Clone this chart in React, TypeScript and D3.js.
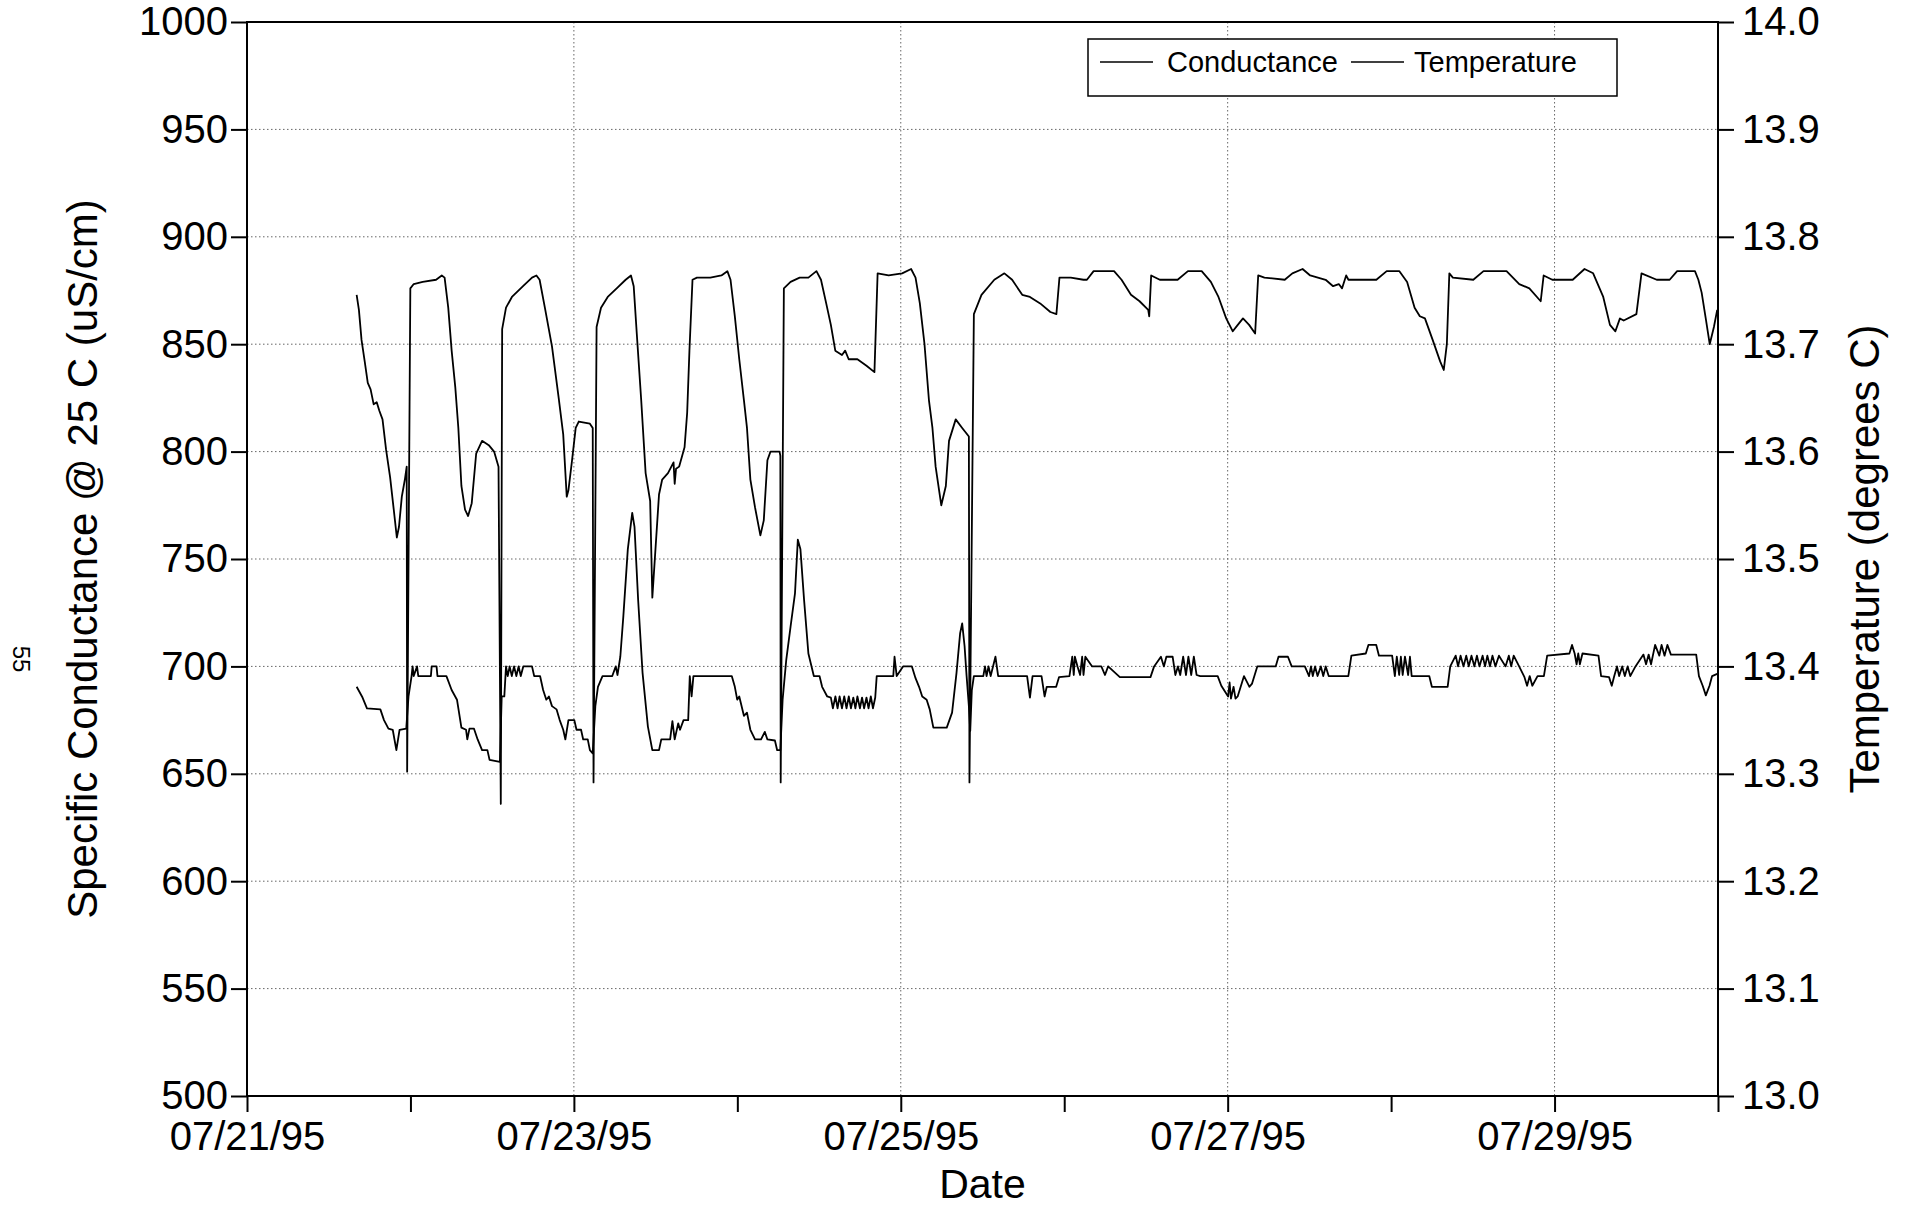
import React, { useEffect, useRef } from 'react';
import * as d3 from 'd3';

// [days since 07/21/95 00:00, specific conductance uS/cm]
const conductance: [number, number][] = [
  [0.671, 873], [0.685, 866], [0.701, 852], [0.72, 842], [0.739, 832], [0.756, 829], [0.775, 822],
  [0.794, 823], [0.81, 819], [0.829, 815], [0.851, 801], [0.876, 788], [0.898, 773], [0.917, 760],
  [0.93, 765], [0.947, 779], [0.966, 787], [0.977, 793], [0.98, 651], [0.999, 876], [1.02, 878],
  [1.075, 879], [1.157, 880], [1.192, 882], [1.209, 881], [1.231, 867], [1.252, 847], [1.274, 830],
  [1.293, 811], [1.312, 784], [1.334, 773], [1.353, 770], [1.375, 776], [1.402, 799], [1.438, 805],
  [1.479, 803], [1.512, 800], [1.539, 793], [1.553, 636], [1.561, 857], [1.585, 867], [1.621, 872],
  [1.689, 877], [1.744, 881], [1.771, 882], [1.79, 880], [1.825, 866], [1.866, 849], [1.907, 825],
  [1.935, 808], [1.956, 779], [1.967, 782], [1.989, 796], [2.011, 811], [2.03, 814], [2.098, 813],
  [2.115, 811], [2.12, 646], [2.139, 858], [2.166, 867], [2.207, 872], [2.262, 876], [2.317, 880],
  [2.349, 882], [2.366, 877], [2.385, 855], [2.412, 824], [2.439, 790], [2.467, 777], [2.48, 732],
  [2.521, 780], [2.54, 787], [2.576, 790], [2.61, 795], [2.617, 785], [2.625, 792], [2.644, 793],
  [2.677, 802], [2.693, 818], [2.707, 847], [2.726, 880], [2.753, 881], [2.835, 881], [2.903, 882],
  [2.939, 884], [2.958, 880], [2.985, 863], [3.012, 843], [3.04, 824], [3.059, 811], [3.08, 787],
  [3.108, 774], [3.141, 761], [3.162, 768], [3.184, 796], [3.203, 800], [3.258, 800], [3.263, 798],
  [3.265, 646], [3.285, 876], [3.326, 879], [3.381, 881], [3.435, 881], [3.484, 884], [3.512, 880],
  [3.544, 869], [3.572, 859], [3.599, 847], [3.64, 845], [3.66, 847], [3.681, 843], [3.735, 843],
  [3.79, 840], [3.839, 837], [3.858, 883], [3.926, 882], [4.008, 883], [4.063, 885], [4.09, 881],
  [4.117, 869], [4.145, 850], [4.172, 824], [4.194, 811], [4.213, 793], [4.248, 775], [4.276, 784],
  [4.295, 805], [4.336, 815], [4.376, 811], [4.417, 807], [4.42, 646], [4.447, 864], [4.494, 873],
  [4.572, 880], [4.634, 883], [4.681, 880], [4.743, 873], [4.79, 872], [4.853, 869], [4.915, 865],
  [4.952, 864], [4.971, 881], [5.04, 881], [5.118, 880], [5.139, 880], [5.18, 884], [5.305, 884],
  [5.351, 880], [5.408, 873], [5.461, 870], [5.514, 866], [5.52, 863], [5.532, 882], [5.585, 880],
  [5.694, 880], [5.757, 884], [5.841, 884], [5.897, 879], [5.944, 872], [5.991, 862], [6.031, 856],
  [6.062, 859], [6.094, 862], [6.131, 859], [6.168, 855], [6.187, 882], [6.225, 881], [6.349, 880],
  [6.396, 883], [6.458, 885], [6.505, 882], [6.599, 880], [6.645, 877], [6.68, 878], [6.7, 876],
  [6.725, 882], [6.739, 880], [6.77, 880], [6.91, 880], [6.973, 884], [7.051, 884], [7.098, 879],
  [7.144, 867], [7.176, 863], [7.207, 862], [7.254, 852], [7.3, 842], [7.322, 838], [7.341, 850],
  [7.356, 883], [7.378, 881], [7.503, 880], [7.565, 884], [7.706, 884], [7.784, 878], [7.846, 876],
  [7.915, 870], [7.933, 882], [7.986, 880], [8.111, 880], [8.183, 885], [8.236, 883], [8.298, 872],
  [8.339, 859], [8.372, 856], [8.4, 862], [8.423, 861], [8.501, 864], [8.532, 883], [8.625, 880],
  [8.704, 880], [8.75, 884], [8.859, 884], [8.88, 880], [8.9, 874], [8.925, 862], [8.949, 850],
  [8.975, 858], [8.995, 866],
];

// [days since 07/21/95 00:00, temperature degrees C]
const temperature: [number, number][] = [
  [0.671, 13.381], [0.707, 13.371], [0.734, 13.361], [0.816, 13.36], [0.838, 13.35], [0.865, 13.342],
  [0.892, 13.341], [0.914, 13.322], [0.933, 13.341], [0.974, 13.342], [0.988, 13.372], [1.007, 13.391],
  [1.013, 13.4], [1.02, 13.391], [1.04, 13.4], [1.048, 13.391], [1.125, 13.391], [1.13, 13.4],
  [1.16, 13.4], [1.165, 13.391], [1.22, 13.391], [1.252, 13.378], [1.285, 13.369], [1.312, 13.343],
  [1.34, 13.341], [1.348, 13.332], [1.361, 13.342], [1.389, 13.342], [1.411, 13.332], [1.438, 13.322],
  [1.471, 13.322], [1.484, 13.313], [1.547, 13.311], [1.558, 13.372], [1.574, 13.372], [1.585, 13.4],
  [1.595, 13.391], [1.607, 13.4], [1.62, 13.391], [1.634, 13.4], [1.648, 13.391], [1.662, 13.4],
  [1.675, 13.391], [1.69, 13.4], [1.744, 13.4], [1.757, 13.391], [1.793, 13.391], [1.812, 13.378],
  [1.831, 13.369], [1.847, 13.372], [1.866, 13.363], [1.894, 13.36], [1.913, 13.35], [1.935, 13.341],
  [1.948, 13.332], [1.967, 13.35], [2.003, 13.35], [2.016, 13.341], [2.044, 13.341], [2.057, 13.332],
  [2.085, 13.332], [2.098, 13.322], [2.115, 13.319], [2.131, 13.363], [2.147, 13.381], [2.175, 13.391],
  [2.235, 13.391], [2.256, 13.4], [2.267, 13.392], [2.284, 13.409], [2.303, 13.447], [2.33, 13.509],
  [2.357, 13.543], [2.371, 13.53], [2.393, 13.462], [2.42, 13.394], [2.453, 13.344], [2.48, 13.322],
  [2.521, 13.322], [2.535, 13.332], [2.589, 13.332], [2.603, 13.349], [2.617, 13.332], [2.638, 13.347],
  [2.649, 13.341], [2.671, 13.35], [2.699, 13.35], [2.709, 13.391], [2.72, 13.372], [2.731, 13.391],
  [2.966, 13.391], [2.985, 13.381], [2.999, 13.369], [3.012, 13.372], [3.04, 13.354], [3.059, 13.357],
  [3.08, 13.341], [3.108, 13.332], [3.145, 13.332], [3.168, 13.339], [3.184, 13.332], [3.23, 13.331],
  [3.244, 13.322], [3.263, 13.322], [3.277, 13.369], [3.299, 13.406], [3.326, 13.437], [3.353, 13.468],
  [3.37, 13.518], [3.386, 13.509], [3.408, 13.462], [3.435, 13.412], [3.468, 13.391], [3.503, 13.391],
  [3.519, 13.381], [3.55, 13.372], [3.572, 13.371], [3.585, 13.361], [3.6, 13.372], [3.613, 13.361],
  [3.626, 13.372], [3.64, 13.361], [3.654, 13.372], [3.668, 13.361], [3.682, 13.372], [3.695, 13.361],
  [3.71, 13.371], [3.722, 13.361], [3.735, 13.372], [3.75, 13.361], [3.763, 13.371], [3.776, 13.361],
  [3.79, 13.371], [3.803, 13.361], [3.817, 13.372], [3.83, 13.361], [3.844, 13.371], [3.853, 13.391],
  [3.954, 13.391], [3.962, 13.409], [3.975, 13.391], [4.014, 13.4], [4.068, 13.4], [4.09, 13.389],
  [4.112, 13.381], [4.131, 13.372], [4.158, 13.369], [4.177, 13.36], [4.199, 13.343], [4.281, 13.343],
  [4.314, 13.357], [4.341, 13.394], [4.363, 13.431], [4.376, 13.44], [4.39, 13.419], [4.403, 13.391],
  [4.417, 13.363], [4.425, 13.34], [4.435, 13.378], [4.447, 13.391], [4.505, 13.391], [4.515, 13.4],
  [4.525, 13.391], [4.537, 13.4], [4.55, 13.391], [4.579, 13.409], [4.596, 13.391], [4.773, 13.391],
  [4.79, 13.371], [4.806, 13.391], [4.861, 13.391], [4.88, 13.372], [4.893, 13.381], [4.951, 13.381],
  [4.968, 13.39], [5.032, 13.391], [5.049, 13.409], [5.058, 13.392], [5.065, 13.409], [5.081, 13.4],
  [5.097, 13.392], [5.11, 13.409], [5.118, 13.392], [5.129, 13.409], [5.171, 13.4], [5.227, 13.4],
  [5.249, 13.392], [5.269, 13.4], [5.34, 13.39], [5.528, 13.39], [5.55, 13.4], [5.592, 13.409],
  [5.61, 13.4], [5.625, 13.409], [5.663, 13.409], [5.68, 13.392], [5.696, 13.4], [5.71, 13.392],
  [5.728, 13.409], [5.745, 13.392], [5.76, 13.409], [5.777, 13.392], [5.793, 13.409], [5.81, 13.392],
  [5.832, 13.391], [5.939, 13.391], [5.961, 13.382], [6.003, 13.372], [6.012, 13.385], [6.02, 13.37],
  [6.036, 13.381], [6.048, 13.37], [6.061, 13.372], [6.1, 13.391], [6.133, 13.381], [6.149, 13.384],
  [6.181, 13.4], [6.294, 13.4], [6.311, 13.409], [6.369, 13.409], [6.392, 13.4], [6.472, 13.4],
  [6.498, 13.391], [6.51, 13.4], [6.521, 13.391], [6.535, 13.4], [6.55, 13.391], [6.57, 13.4],
  [6.585, 13.391], [6.6, 13.4], [6.618, 13.391], [6.634, 13.391], [6.738, 13.391], [6.757, 13.41],
  [6.845, 13.412], [6.861, 13.42], [6.909, 13.42], [6.926, 13.41], [7.006, 13.41], [7.023, 13.391],
  [7.035, 13.409], [7.049, 13.392], [7.06, 13.409], [7.071, 13.392], [7.085, 13.409], [7.104, 13.392],
  [7.115, 13.409], [7.126, 13.391], [7.233, 13.391], [7.249, 13.381], [7.346, 13.381], [7.362, 13.4],
  [7.395, 13.41], [7.41, 13.4], [7.425, 13.41], [7.443, 13.4], [7.46, 13.41], [7.475, 13.4],
  [7.492, 13.41], [7.51, 13.4], [7.525, 13.41], [7.54, 13.4], [7.56, 13.41], [7.575, 13.4],
  [7.589, 13.41], [7.605, 13.4], [7.62, 13.41], [7.638, 13.4], [7.66, 13.41], [7.7, 13.4],
  [7.72, 13.41], [7.735, 13.4], [7.75, 13.41], [7.783, 13.4], [7.816, 13.39], [7.832, 13.382],
  [7.848, 13.391], [7.864, 13.382], [7.896, 13.391], [7.935, 13.391], [7.955, 13.41], [8.091, 13.412],
  [8.107, 13.42], [8.123, 13.412], [8.135, 13.402], [8.145, 13.412], [8.155, 13.402], [8.171, 13.412],
  [8.269, 13.41], [8.285, 13.391], [8.333, 13.39], [8.35, 13.382], [8.365, 13.391], [8.382, 13.4],
  [8.395, 13.391], [8.414, 13.4], [8.43, 13.391], [8.447, 13.4], [8.463, 13.391], [8.495, 13.4],
  [8.544, 13.411], [8.56, 13.402], [8.576, 13.411], [8.59, 13.402], [8.615, 13.42], [8.641, 13.41],
  [8.655, 13.42], [8.673, 13.41], [8.69, 13.42], [8.712, 13.411], [8.867, 13.411], [8.883, 13.391],
  [8.906, 13.382], [8.926, 13.373], [8.948, 13.382], [8.964, 13.391], [8.995, 13.393],
];

const condTicks = [500, 550, 600, 650, 700, 750, 800, 850, 900, 950, 1000];
const tempTicks = [13.0, 13.1, 13.2, 13.3, 13.4, 13.5, 13.6, 13.7, 13.8, 13.9, 14.0];
const dateTicks = ['07/21/95', '07/22/95', '07/23/95', '07/24/95', '07/25/95', '07/26/95', '07/27/95', '07/28/95', '07/29/95', '07/30/95'];
const dateLabels = ['07/21/95', '07/23/95', '07/25/95', '07/27/95', '07/29/95'];
const seriesNames = ['Conductance', 'Temperature'];

const FONT = '"Liberation Sans", Arial, Helvetica, sans-serif';

export default function App() {
  const svgRef = useRef<SVGSVGElement>(null);

  useEffect(() => {
    const svg = d3.select(svgRef.current);
    svg.selectAll('*').remove();

    const left = 247;
    const right = 1718;
    const top = 22;
    const bottom = 1096;

    const parse = d3.timeParse('%m/%d/%y');
    const fmt = d3.timeFormat('%m/%d/%y');
    const start = parse(dateTicks[0]) as Date;
    const toDate = (d: number) => d3.timeMinute.offset(start, Math.round(d * 1440));

    const x = d3.scaleTime()
      .domain([start, parse(dateTicks[dateTicks.length - 1]) as Date])
      .range([left, right]);
    const yL = d3.scaleLinear().domain([500, 1000]).range([bottom, top]);
    const yR = d3.scaleLinear().domain([13, 14]).range([bottom, top]);

    svg.append('rect').attr('width', 1909).attr('height', 1207).attr('fill', '#fff');

    // dotted grid
    const grid = svg.append('g')
      .attr('stroke', '#666')
      .attr('stroke-width', 1)
      .attr('stroke-dasharray', '1.5,2.5');
    grid.selectAll('line.h')
      .data(condTicks.slice(1, -1))
      .enter()
      .append('line')
      .attr('x1', left).attr('x2', right)
      .attr('y1', (d) => yL(d)).attr('y2', (d) => yL(d));
    grid.selectAll('line.v')
      .data(dateLabels.slice(1))
      .enter()
      .append('line')
      .attr('y1', top).attr('y2', bottom)
      .attr('x1', (d) => x(parse(d) as Date)).attr('x2', (d) => x(parse(d) as Date));

    // data lines
    const condLine = d3.line<[number, number]>()
      .x((d) => x(toDate(d[0])))
      .y((d) => yL(d[1]));
    const tempLine = d3.line<[number, number]>()
      .x((d) => x(toDate(d[0])))
      .y((d) => yR(d[1]));

    svg.append('path').datum(conductance)
      .attr('d', condLine).attr('fill', 'none')
      .attr('stroke', '#000').attr('stroke-width', 1.8).attr('stroke-linejoin', 'round');
    svg.append('path').datum(temperature)
      .attr('d', tempLine).attr('fill', 'none')
      .attr('stroke', '#000').attr('stroke-width', 1.8).attr('stroke-linejoin', 'round');

    // frame
    svg.append('rect')
      .attr('x', left).attr('y', top)
      .attr('width', right - left).attr('height', bottom - top)
      .attr('fill', 'none').attr('stroke', '#000').attr('stroke-width', 2);

    const styleAxis = (g: any, size: number) => {
      g.select('.domain').remove();
      g.selectAll('line').attr('stroke', '#000').attr('stroke-width', 2);
      g.selectAll('text').attr('font-family', FONT).attr('font-size', size).attr('fill', '#000');
    };

    svg.append('g')
      .attr('transform', `translate(${left},0)`)
      .call(d3.axisLeft(yL).tickValues(condTicks).tickSize(16).tickPadding(3).tickFormat(d3.format('d')))
      .call((g: any) => styleAxis(g, 40));

    svg.append('g')
      .attr('transform', `translate(${right},0)`)
      .call(d3.axisRight(yR).tickValues(tempTicks).tickSize(16).tickPadding(8).tickFormat(d3.format('.1f')))
      .call((g: any) => styleAxis(g, 40));

    svg.append('g')
      .attr('transform', `translate(0,${bottom})`)
      .call(
        d3.axisBottom(x)
          .tickValues(dateTicks.map((t) => parse(t) as Date))
          .tickSize(16)
          .tickPadding(10)
          .tickFormat((d: any) => (dateLabels.includes(fmt(d)) ? fmt(d) : ''))
      )
      .call((g: any) => styleAxis(g, 40));

    // axis titles
    svg.append('text')
      .attr('transform', `translate(97,${(top + bottom) / 2}) rotate(-90)`)
      .attr('text-anchor', 'middle')
      .attr('font-family', FONT).attr('font-size', 42)
      .text('Specific Conductance @ 25 C (uS/cm)');
    svg.append('text')
      .attr('transform', `translate(1879,${(top + bottom) / 2}) rotate(-90)`)
      .attr('text-anchor', 'middle')
      .attr('font-family', FONT).attr('font-size', 42)
      .text('Temperature (degrees C)');
    svg.append('text')
      .attr('x', (left + right) / 2).attr('y', 1198)
      .attr('text-anchor', 'middle')
      .attr('font-family', FONT).attr('font-size', 41)
      .text('Date');
    svg.append('text')
      .attr('transform', 'translate(13,659) rotate(90)')
      .attr('text-anchor', 'middle')
      .attr('font-family', FONT).attr('font-size', 24)
      .text('55');

    // legend
    const lg = svg.append('g');
    lg.append('rect')
      .attr('x', 1088).attr('y', 39).attr('width', 529).attr('height', 57)
      .attr('fill', '#fff').attr('stroke', '#000').attr('stroke-width', 1.5);
    const legendX = [[1100, 1153, 1167], [1351, 1404, 1414]];
    seriesNames.forEach((name, i) => {
      const [x1, x2, tx] = legendX[i];
      lg.append('line')
        .attr('x1', x1).attr('x2', x2).attr('y1', 62).attr('y2', 62)
        .attr('stroke', '#000').attr('stroke-width', 1.5);
      lg.append('text')
        .attr('x', tx).attr('y', 72)
        .attr('font-family', FONT).attr('font-size', 29)
        .text(name);
    });
  }, []);

  return (
    <svg
      ref={svgRef}
      width={1909}
      height={1207}
      style={{ position: 'absolute', left: 0, top: 0, display: 'block' }}
    />
  );
}
